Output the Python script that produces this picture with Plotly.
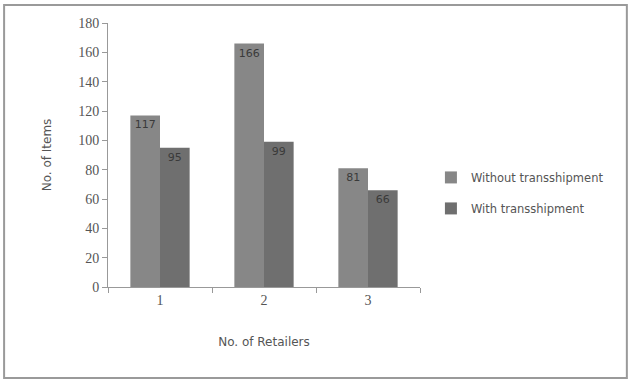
import plotly.graph_objects as go

categories = ["1", "2", "3"]
without_ts = [117, 166, 81]
with_ts = [95, 99, 66]
y_ticks = [0, 20, 40, 60, 80, 100, 120, 140, 160, 180]

fig = go.Figure()
fig.add_trace(go.Bar(x=categories, y=without_ts, name="Without transshipment",
                     marker=dict(color="#878787", line=dict(width=0)),
                     text=[str(v) for v in without_ts],
                     textposition="inside", insidetextanchor="end", textangle=0,
                     textfont=dict(size=11, color="#3a3a3a", family="DejaVu Sans"),
                     legendgroup="a"))
fig.add_trace(go.Bar(x=categories, y=with_ts, name="With transshipment",
                     marker=dict(color="#6f6f6f", line=dict(width=0)),
                     text=[str(v) for v in with_ts],
                     textposition="inside", insidetextanchor="end", textangle=0,
                     textfont=dict(size=11, color="#3a3a3a", family="DejaVu Sans"),
                     legendgroup="b"))

fig.update_layout(
    width=631, height=381,
    margin=dict(l=108, r=211, t=23, b=94),
    paper_bgcolor="white", plot_bgcolor="white",
    barmode="group", bargap=0.43, bargroupgap=0,
    font=dict(family="DejaVu Sans", color="#555555", size=12),
    showlegend=True,
    legend=dict(x=1.035, y=0.47, xanchor="left", yanchor="top",
                font=dict(size=11.5, color="#555555"), tracegroupgap=12,
                itemwidth=30, bgcolor="rgba(0,0,0,0)"),
    xaxis=dict(title=dict(text="No. of Retailers", font=dict(size=12), standoff=30),
               showline=True, linecolor="#999999", linewidth=1,
               ticks="outside", tickson="boundaries", ticklen=5, tickcolor="#999999",
               tickfont=dict(family="Liberation Serif", size=14, color="#555555"),
               showgrid=False),
    yaxis=dict(title=dict(text="No. of Items", font=dict(size=12), standoff=24),
               range=[0, 180], tickvals=y_ticks,
               showline=True, linecolor="#999999", linewidth=1,
               ticks="outside", ticklen=5, tickcolor="#999999",
               tickfont=dict(family="Liberation Serif", size=14, color="#555555"),
               showgrid=False, zeroline=False),
    shapes=[dict(type="rect", xref="paper", yref="paper",
                 x0=-0.333, x1=1.663, y0=-0.345, y1=1.068,
                 line=dict(color="#9a9a9a", width=2), fillcolor="rgba(0,0,0,0)")],
)

fig.write_html("out.html")
